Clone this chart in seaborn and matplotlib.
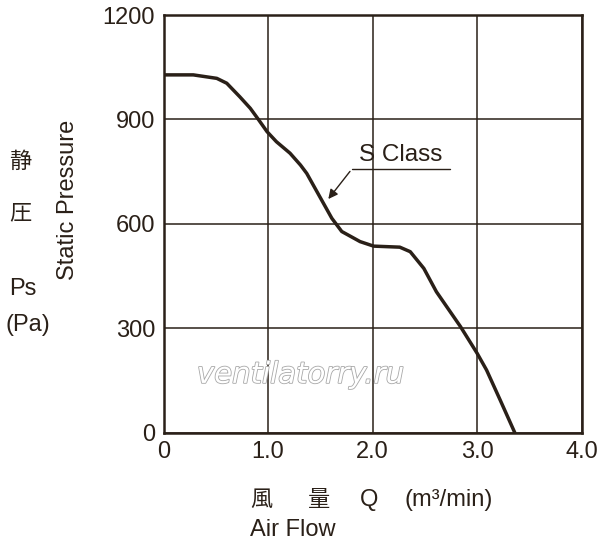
import matplotlib
matplotlib.use("Agg")
import matplotlib.pyplot as plt
import matplotlib.patheffects as pe
import pandas as pd
import seaborn as sns

# P-Q curve
flow = [0, 0.285, 0.51, 0.605, 0.73, 0.83, 0.91, 0.99, 1.08, 1.21, 1.31,
        1.37, 1.45, 1.53, 1.61, 1.705, 1.85, 1.88, 2.01, 2.26, 2.36, 2.49,
        2.61, 2.84, 3.0, 3.09, 3.22, 3.36]
pressure = [1028, 1028, 1018, 1004, 965, 932, 899, 865, 836, 803, 769,
            745, 702, 659, 616, 578, 554, 549, 536, 533, 520, 472,
            405, 305, 228, 180, 94, 0]
x_ticks = [0, 1.0, 2.0, 3.0, 4.0]
x_tick_labels = ["0", "1.0", "2.0", "3.0", "4.0"]
y_ticks = [0, 300, 600, 900, 1200]

ink = "#2a2018"
df = pd.DataFrame({"flow": flow, "pressure": pressure})

sns.set_style("white")
plt.rcParams["font.family"] = ["Liberation Sans", "Noto Sans CJK JP", "DejaVu Sans"]

fig = plt.figure(figsize=(6, 5.5), dpi=100)
ax = fig.add_axes([0.2725, 0.2133, 0.697, 0.7594])

sns.lineplot(data=df, x="flow", y="pressure", sort=False, color=ink,
             linewidth=2.5, ax=ax)

ax.set_xlim(0, 4.0)
ax.set_ylim(0, 1200)
ax.set_xticks(x_ticks)
ax.set_xticklabels(x_tick_labels)
ax.set_yticks(y_ticks)
ax.tick_params(length=0, labelsize=17, colors=ink, pad=6)
ax.grid(True, color=ink, linewidth=1.1)
for s in ax.spines.values():
    s.set_color(ink)
    s.set_linewidth(1.8)
ax.set_xlabel("")
ax.set_ylabel("")

# S Class label with leader
ax.text(2.27, 766, "S Class", fontsize=17.5, color=ink, ha="center", va="bottom")
ax.plot([1.80, 2.74], [757, 757], color=ink, linewidth=1.0)
ax.annotate("", xy=(1.56, 665), xytext=(1.80, 757),
            arrowprops=dict(arrowstyle="-|>", color=ink, lw=1.0,
                            mutation_scale=14))

# watermark
ax.text(1.31, 166, "ventilatorry.ru", fontsize=21, style="italic",
        color="white", ha="center", va="center", family="DejaVu Sans",
        path_effects=[pe.withStroke(linewidth=1.2, foreground="#a8a8a8")])

# y axis titles
fig.text(0.113, 0.636, "Static Pressure", rotation=90, fontsize=17,
         color=ink, ha="center", va="center")
fig.text(0.034, 0.706, "静", fontsize=16, color=ink, ha="center", va="center",
         family=["Noto Sans CJK JP"])
fig.text(0.034, 0.613, "圧", fontsize=16, color=ink, ha="center", va="center",
         family=["Noto Sans CJK JP"])
fig.text(0.038, 0.475, "Ps", fontsize=17, color=ink, ha="center", va="center")
fig.text(0.046, 0.409, "(Pa)", fontsize=17, color=ink, ha="center", va="center")

# x axis titles
fig.text(0.417, 0.091, "風", fontsize=16, color=ink, ha="left", va="center",
         family=["Noto Sans CJK JP"])
fig.text(0.513, 0.091, "量", fontsize=16, color=ink, ha="left", va="center",
         family=["Noto Sans CJK JP"])
fig.text(0.6, 0.091, "Q", fontsize=17, color=ink, ha="left", va="center")
fig.text(0.675, 0.091, "(m³/min)", fontsize=17, color=ink, ha="left",
         va="center")
fig.text(0.417, 0.036, "Air Flow", fontsize=17, color=ink, ha="left",
         va="center")

fig.savefig("out.png", dpi=100)
